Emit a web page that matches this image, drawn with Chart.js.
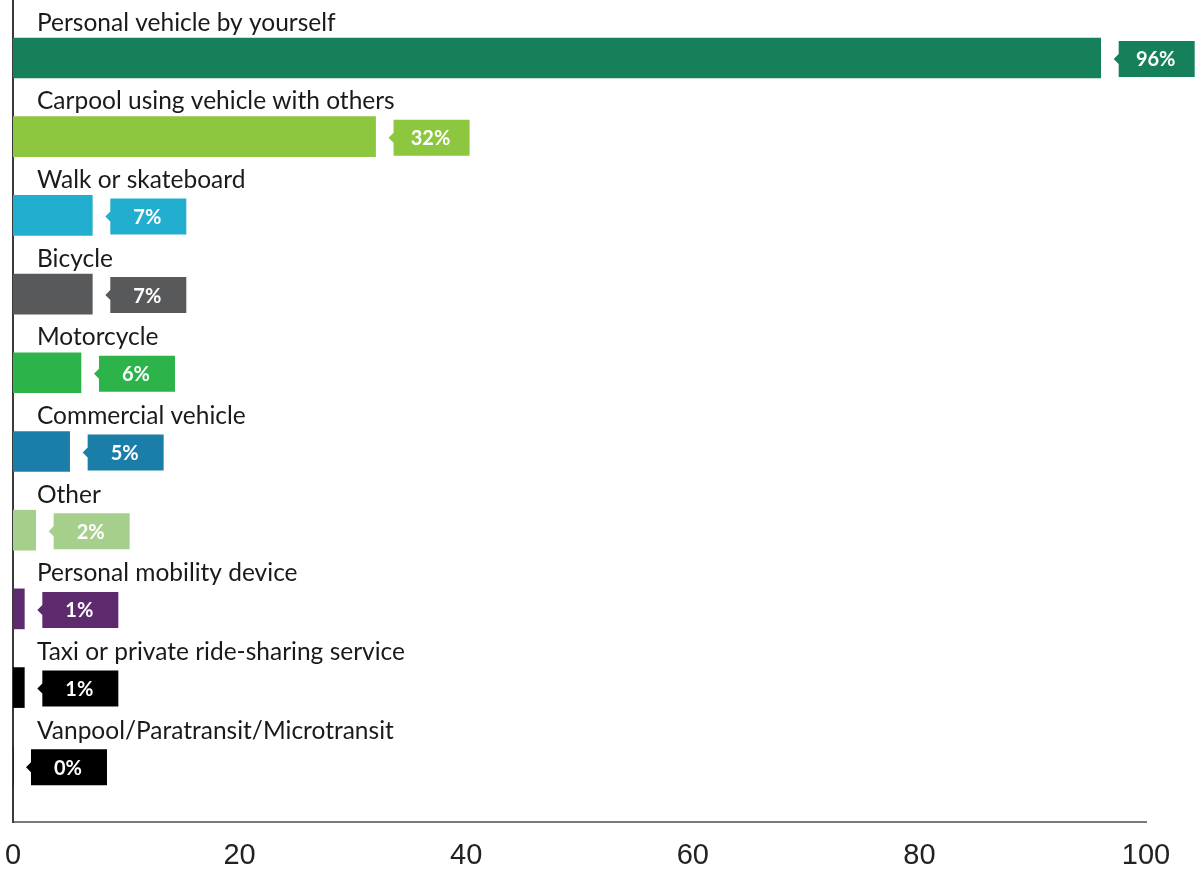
<!DOCTYPE html>
<html>
<head>
<meta charset="utf-8">
<script src="https://cdn.jsdelivr.net/npm/chart.js@4/dist/chart.umd.min.js"></script>
<style>
  html, body { margin: 0; padding: 0; background: #ffffff; }
  #wrap { width: 1196px; height: 875px; }
</style>
</head>
<body>
<div id="wrap"><canvas id="chart" width="1196" height="875"></canvas></div>
<script>
// Travel modes and the share of respondents using each (percent)
const categories = [
  'Personal vehicle by yourself',
  'Carpool using vehicle with others',
  'Walk or skateboard',
  'Bicycle',
  'Motorcycle',
  'Commercial vehicle',
  'Other',
  'Personal mobility device',
  'Taxi or private ride-sharing service',
  'Vanpool/Paratransit/Microtransit'
];
const shares = [96, 32, 7, 7, 6, 5, 2, 1, 1, 0];
const valueLabels = ['96%', '32%', '7%', '7%', '6%', '5%', '2%', '1%', '1%', '0%'];
const barColors = [
  '#16805b', '#8dc63f', '#22aecf', '#58595b', '#2cb34a',
  '#1b7ea8', '#a6cf8b', '#5c2a6d', '#000000', '#000000'
];
const xTicks = [0, 20, 40, 60, 80, 100];

// Category name above each bar and a value tag with a left-pointing notch after it
const annotate = {
  id: 'annotate',
  afterDatasetsDraw(chart) {
    const ctx = chart.ctx;
    const meta = chart.getDatasetMeta(0);
    const left = chart.chartArea.left;
    ctx.save();
    meta.data.forEach((bar, i) => {
      const cy = bar.y;
      // category name
      ctx.font = '24.5px Lato, "Open Sans", sans-serif';
      ctx.fillStyle = '#1a1a1a';
      ctx.textAlign = 'left';
      ctx.textBaseline = 'alphabetic';
      ctx.fillText(categories[i], left + 24, cy - 27.5);

      // value tag
      const bx = bar.x + 18, bw = 76, bh = 36, by = cy + 1 - bh / 2;
      ctx.fillStyle = barColors[i];
      ctx.beginPath();
      ctx.moveTo(bx, by);
      ctx.lineTo(bx + bw, by);
      ctx.lineTo(bx + bw, by + bh);
      ctx.lineTo(bx, by + bh);
      ctx.lineTo(bx, cy + 1 + 5);
      ctx.lineTo(bx - 5, cy + 1);
      ctx.lineTo(bx, cy + 1 - 5);
      ctx.closePath();
      ctx.fill();

      ctx.font = 'bold 20px Lato, "Open Sans", sans-serif';
      ctx.fillStyle = '#ffffff';
      ctx.textAlign = 'center';
      ctx.textBaseline = 'middle';
      ctx.fillText(valueLabels[i], bx + bw / 2 - 1, cy + 2);
    });
    ctx.restore();
  }
};

new Chart(document.getElementById('chart'), {
  type: 'bar',
  data: {
    datasets: [{
      data: shares.map((v, i) => ({ x: v, y: i })),
      backgroundColor: barColors,
      borderWidth: 0,
      barThickness: 40
    }]
  },
  options: {
    indexAxis: 'y',
    responsive: false,
    animation: false,
    layout: { padding: { left: 13, right: 50, top: 0, bottom: 0 } },
    plugins: { legend: { display: false }, tooltip: { enabled: false } },
    scales: {
      x: {
        type: 'linear',
        min: 0,
        max: 100,
        afterBuildTicks(scale) { scale.ticks = xTicks.map(v => ({ value: v })); },
        afterFit(scale) {
          scale.height = 53;
          scale.paddingLeft = 0;
          scale.paddingRight = 0;
        },
        grid: { display: false, drawTicks: false },
        border: { display: true, color: '#7a7a7a', width: 2 },
        ticks: {
          padding: 17,
          color: '#222222',
          font: { family: '"Liberation Sans", Arial, sans-serif', size: 29 }
        }
      },
      y: {
        type: 'linear',
        reverse: true,
        offset: false,
        min: -0.737,
        max: 9.708,
        afterFit(scale) { scale.width = 0; },
        grid: { display: false, drawTicks: false, offset: false },
        border: { display: true, color: '#3a3a3a', width: 2 },
        ticks: { display: false }
      }
    }
  },
  plugins: [annotate]
});
</script>
</body>
</html>
